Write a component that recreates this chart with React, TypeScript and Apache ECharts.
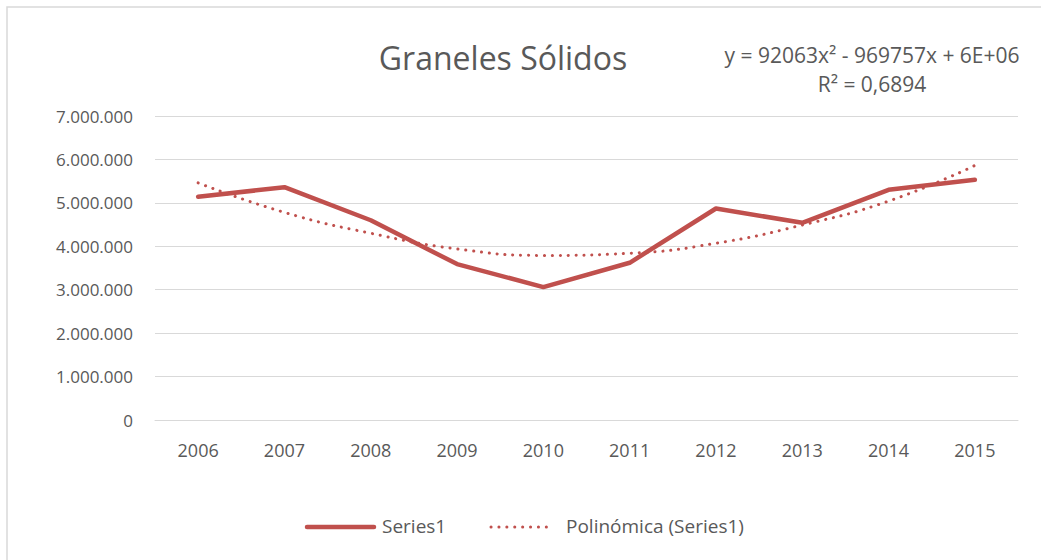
import React, { useEffect, useRef } from "react";
import * as echarts from "echarts";

const years = ["2006", "2007", "2008", "2009", "2010", "2011", "2012", "2013", "2014", "2015"];
const series1 = [5140000, 5360000, 4600000, 3590000, 3060000, 3620000, 4870000, 4540000, 5300000, 5530000];
const trend = [5460000, 4780000, 4300000, 3940000, 3790000, 3840000, 4070000, 4490000, 5040000, 5860000];
const yTicks = [0, 1000000, 2000000, 3000000, 4000000, 5000000, 6000000, 7000000];
const titleText = "Graneles Sólidos";
const equationLines = ["y = 92063x² - 969757x + 6E+06", "R² = 0,6894"];
const seriesNames = ["Series1", "Polinómica (Series1)"];

const FONT = "'Open Sans', 'Noto Sans', sans-serif";
const RED = "#C0504D";
const GRAY = "#595959";

function fmt(v: number): string {
  return String(Math.round(v)).replace(/\B(?=(\d{3})+(?!\d))/g, ".");
}

export default function App() {
  const ref = useRef<HTMLDivElement>(null);
  useEffect(() => {
    if (!ref.current) return;
    const chart = echarts.init(ref.current, undefined, { renderer: "svg" });
    chart.setOption({
      animation: false,
      backgroundColor: "#ffffff",
      textStyle: { fontFamily: FONT },
      grid: { left: 155, right: 23, top: 116, bottom: 140, containLabel: false },
      graphic: [
        {
          type: "rect",
          shape: { x: 7, y: 7, width: 1100, height: 600 },
          style: { fill: "none", stroke: "#d9d9d9", lineWidth: 1.5 },
          silent: true,
        },
        {
          type: "text",
          x: 503,
          y: 57,
          style: { text: titleText, font: `32px ${FONT}`, fill: GRAY, align: "center", verticalAlign: "middle" },
        },
        {
          type: "text",
          x: 872,
          y: 55,
          style: { text: equationLines[0], font: `21px ${FONT}`, fill: GRAY, align: "center", verticalAlign: "middle" },
        },
        {
          type: "text",
          x: 872,
          y: 84,
          style: { text: equationLines[1], font: `21px ${FONT}`, fill: GRAY, align: "center", verticalAlign: "middle" },
        },
        {
          type: "line",
          shape: { x1: 307, y1: 527, x2: 374, y2: 527 },
          style: { stroke: RED, lineWidth: 4.5, lineCap: "round" },
        },
        {
          type: "text",
          x: 382,
          y: 526,
          style: { text: seriesNames[0], font: `19px ${FONT}`, fill: GRAY, align: "left", verticalAlign: "middle" },
        },
        {
          type: "line",
          shape: { x1: 491, y1: 527, x2: 554, y2: 527 },
          style: { stroke: RED, lineWidth: 3, lineCap: "round", lineDash: [0.1, 7.8] },
        },
        {
          type: "text",
          x: 566,
          y: 526,
          style: { text: seriesNames[1], font: `19px ${FONT}`, fill: GRAY, align: "left", verticalAlign: "middle" },
        },
      ],
      xAxis: {
        type: "category",
        data: years,
        boundaryGap: true,
        axisLine: { show: true, lineStyle: { color: "#d9d9d9" } },
        axisTick: { show: false },
        axisLabel: { color: GRAY, fontSize: 18, margin: 21, fontFamily: FONT },
      },
      yAxis: {
        type: "value",
        min: yTicks[0],
        max: yTicks[yTicks.length - 1],
        interval: 1000000,
        axisLine: { show: false },
        axisTick: { show: false },
        axisLabel: { color: GRAY, fontSize: 17, margin: 22, fontFamily: FONT, formatter: (v: number) => fmt(v) },
        splitLine: { lineStyle: { color: "#d9d9d9", width: 1 } },
      },
      series: [
        {
          name: seriesNames[0],
          type: "line",
          data: series1,
          symbol: "none",
          lineStyle: { color: RED, width: 4.5, cap: "round", join: "round" },
          itemStyle: { color: RED },
        },
        {
          name: seriesNames[1],
          type: "line",
          data: trend,
          smooth: 0.5,
          symbol: "none",
          lineStyle: { color: RED, width: 3, type: [0.1, 7.8], cap: "round" },
          itemStyle: { color: RED },
        },
      ],
    });
    return () => chart.dispose();
  }, []);
  return <div ref={ref} style={{ position: "absolute", left: 0, top: 0, width: 1041, height: 560 }} />;
}
